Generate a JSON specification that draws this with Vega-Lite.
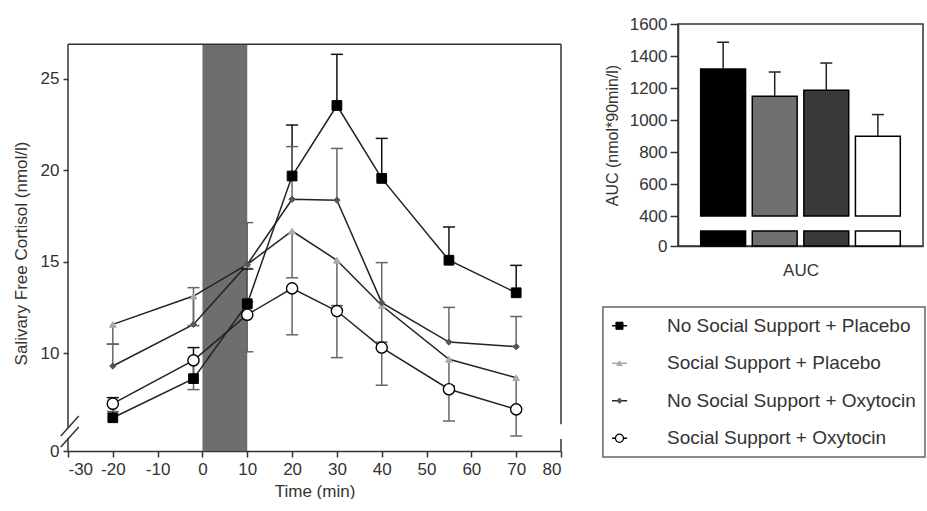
{
  "$schema": "https://vega.github.io/schema/vega-lite/v6.json",
  "padding": {"left": 12, "top": 14, "right": 0, "bottom": 0},
  "spacing": 40,
  "background": "white",
  "resolve": {"scale": {"fill": "independent", "stroke": "independent", "shape": "independent", "size": "independent", "color": "independent"}},
  "config": {
    "font": "Liberation Sans",
    "view": {"stroke": "#333", "strokeWidth": 1.5},
    "axis": {"domainColor": "#333", "domainWidth": 1.5, "tickColor": "#333", "tickWidth": 1.5, "labelColor": "#333", "titleColor": "#333", "labelFontSize": 16, "titleFontSize": 16, "titleFontWeight": "normal", "grid": false, "labelOverlap": false}
  },
  "hconcat": [
    {
      "width": 493,
      "height": 427,
      "view": {"stroke": null},
      "data": {"values": [
        {"series": "No Social Support + Placebo", "t": -20, "v": 6.46, "e": 7.56},
        {"series": "No Social Support + Placebo", "t": -2, "v": 8.6, "e": 10.3},
        {"series": "No Social Support + Placebo", "t": 10, "v": 12.7, "e": 14.6},
        {"series": "No Social Support + Placebo", "t": 20, "v": 19.69, "e": 22.48},
        {"series": "No Social Support + Placebo", "t": 30, "v": 23.55, "e": 26.35},
        {"series": "No Social Support + Placebo", "t": 40, "v": 19.56, "e": 21.75},
        {"series": "No Social Support + Placebo", "t": 55, "v": 15.08, "e": 16.9},
        {"series": "No Social Support + Placebo", "t": 70, "v": 13.3, "e": 14.8},
        {"series": "Social Support + Placebo", "t": -20, "v": 11.57, "e": 10.5},
        {"series": "Social Support + Placebo", "t": -2, "v": 13.12, "e": 11.5},
        {"series": "Social Support + Placebo", "t": 10, "v": 14.85, "e": 12.8},
        {"series": "Social Support + Placebo", "t": 20, "v": 16.68, "e": 14.12},
        {"series": "Social Support + Placebo", "t": 30, "v": 15.08, "e": 12.6},
        {"series": "Social Support + Placebo", "t": 40, "v": 12.6, "e": 10.6},
        {"series": "Social Support + Placebo", "t": 55, "v": 9.66, "e": 8.2},
        {"series": "Social Support + Placebo", "t": 70, "v": 8.65, "e": 7.0},
        {"series": "No Social Support + Oxytocin", "t": -20, "v": 9.29, "e": 10.48},
        {"series": "No Social Support + Oxytocin", "t": -2, "v": 11.57, "e": 13.58},
        {"series": "No Social Support + Oxytocin", "t": 10, "v": 14.85, "e": 17.14},
        {"series": "No Social Support + Oxytocin", "t": 20, "v": 18.42, "e": 21.3},
        {"series": "No Social Support + Oxytocin", "t": 30, "v": 18.37, "e": 21.2},
        {"series": "No Social Support + Oxytocin", "t": 40, "v": 12.76, "e": 14.95},
        {"series": "No Social Support + Oxytocin", "t": 55, "v": 10.6, "e": 12.5},
        {"series": "No Social Support + Oxytocin", "t": 70, "v": 10.35, "e": 12.0},
        {"series": "Social Support + Oxytocin", "t": -20, "v": 7.23, "e": 6.8},
        {"series": "Social Support + Oxytocin", "t": -2, "v": 9.6, "e": 8.0},
        {"series": "Social Support + Oxytocin", "t": 10, "v": 12.1, "e": 10.07},
        {"series": "Social Support + Oxytocin", "t": 20, "v": 13.54, "e": 11.0},
        {"series": "Social Support + Oxytocin", "t": 30, "v": 12.3, "e": 9.75},
        {"series": "Social Support + Oxytocin", "t": 40, "v": 10.3, "e": 8.24},
        {"series": "Social Support + Oxytocin", "t": 55, "v": 8.02, "e": 6.28},
        {"series": "Social Support + Oxytocin", "t": 70, "v": 6.92, "e": 5.46}
      ]},
      "layer": [
        {
          "data": {"values": [{}]},
          "mark": {"type": "rect", "color": "#6e6e6e", "opacity": 1},
          "encoding": {
            "x": {"datum": 0, "type": "quantitative", "scale": {"domain": [-30, 80], "nice": false, "zero": false}},
            "x2": {"datum": 10},
            "y": {"datum": 4.64, "type": "quantitative", "scale": {"domain": [4.64, 28.01], "nice": false, "zero": false}},
            "y2": {"datum": 26.9}
          }
        },
        {
          "mark": {"type": "line", "color": "#222", "strokeWidth": 1.5},
          "encoding": {
            "x": {"field": "t", "type": "quantitative", "scale": {"domain": [-30, 80], "nice": false, "zero": false},
              "axis": {"values": [-30, -20, -10, 0, 10, 20, 30, 40, 50, 60, 70, 80], "labelExpr": "datum.value < 0 ? '-' + abs(datum.value) : '' + datum.value", "title": "Time (min)", "tickSize": 6, "labelPadding": 4, "titlePadding": 6, "labelFontSize": 17, "titleFontSize": 17}},
            "y": {"field": "v", "type": "quantitative", "scale": {"domain": [4.64, 28.01], "nice": false, "zero": false},
              "axis": {"values": [4.64, 10, 15, 20, 25], "domain": false, "labelExpr": "datum.value < 5 ? '0' : datum.label", "title": "Salivary Free Cortisol (nmol/l)", "titleY": 229, "tickSize": 5, "labelPadding": 4, "titlePadding": 10, "labelFontSize": 17, "titleFontSize": 17}},
            "detail": {"field": "series"}
          }
        },
        {
          "mark": {"type": "rule", "strokeWidth": 1.5, "opacity": 1},
          "encoding": {
            "x": {"field": "t", "type": "quantitative"},
            "y": {"field": "v", "type": "quantitative"},
            "y2": {"field": "e"},
            "color": {"condition": {"test": "datum.series === 'No Social Support + Placebo'", "value": "#111"}, "value": "#666"}
          }
        },
        {
          "mark": {"type": "tick", "orient": "horizontal", "size": 12, "thickness": 1.5, "opacity": 1},
          "encoding": {
            "x": {"field": "t", "type": "quantitative"},
            "y": {"field": "e", "type": "quantitative"},
            "color": {"condition": {"test": "datum.series === 'No Social Support + Placebo'", "value": "#111"}, "value": "#666"}
          }
        },
        {
          "transform": [{"filter": "datum.series === 'No Social Support + Placebo'"}],
          "mark": {"type": "point", "shape": "square", "size": 95, "filled": true, "fill": "#000", "stroke": "#000", "strokeWidth": 1, "opacity": 1},
          "encoding": {"x": {"field": "t", "type": "quantitative"}, "y": {"field": "v", "type": "quantitative"}}
        },
        {
          "transform": [{"filter": "datum.series === 'Social Support + Placebo'"}],
          "mark": {"type": "point", "shape": "triangle-up", "size": 45, "filled": true, "fill": "#aaa", "stroke": "#aaa", "strokeWidth": 1, "opacity": 1},
          "encoding": {"x": {"field": "t", "type": "quantitative"}, "y": {"field": "v", "type": "quantitative"}}
        },
        {
          "transform": [{"filter": "datum.series === 'No Social Support + Oxytocin'"}],
          "mark": {"type": "point", "shape": "diamond", "size": 40, "filled": true, "fill": "#555", "stroke": "#555", "strokeWidth": 1, "opacity": 1},
          "encoding": {"x": {"field": "t", "type": "quantitative"}, "y": {"field": "v", "type": "quantitative"}}
        },
        {
          "transform": [{"filter": "datum.series === 'Social Support + Oxytocin'"}],
          "mark": {"type": "point", "shape": "circle", "size": 125, "filled": true, "fill": "#fff", "stroke": "#000", "strokeWidth": 1.4, "opacity": 1},
          "encoding": {"x": {"field": "t", "type": "quantitative"}, "y": {"field": "v", "type": "quantitative"}}
        },
        {
          "data": {"values": [{}]},
          "mark": {"type": "rule", "color": "#333", "strokeWidth": 1.5},
          "encoding": {"x": {"datum": -30, "type": "quantitative"}, "x2": {"datum": 80}, "y": {"datum": 26.9, "type": "quantitative"}}
        },
        {
          "data": {"values": [{}]},
          "mark": {"type": "rule", "color": "#333", "strokeWidth": 1.5},
          "encoding": {"x": {"datum": 80, "type": "quantitative"}, "y": {"datum": 6.1, "type": "quantitative"}, "y2": {"datum": 26.9}}
        },
        {
          "data": {"values": [{}]},
          "mark": {"type": "rule", "color": "#333", "strokeWidth": 1.5},
          "encoding": {"x": {"datum": 80, "type": "quantitative"}, "y": {"datum": 4.64, "type": "quantitative"}, "y2": {"datum": 5.3}}
        },
        {
          "data": {"values": [{}]},
          "mark": {"type": "rule", "color": "#333", "strokeWidth": 1.5},
          "encoding": {"x": {"datum": -30, "type": "quantitative"}, "y": {"datum": 5.9, "type": "quantitative"}, "y2": {"datum": 26.9}}
        },
        {
          "data": {"values": [{}]},
          "mark": {"type": "rule", "color": "#333", "strokeWidth": 1.5},
          "encoding": {"x": {"datum": -30, "type": "quantitative"}, "y": {"datum": 4.64, "type": "quantitative"}, "y2": {"datum": 5.35}}
        },
        {
          "data": {"values": [{}]},
          "mark": {"type": "rule", "color": "#333", "strokeWidth": 1.5, "clip": false},
          "encoding": {"x": {"datum": -31.6, "type": "quantitative"}, "x2": {"datum": -27.6}, "y": {"datum": 5.46, "type": "quantitative"}, "y2": {"datum": 6.55}}
        },
        {
          "data": {"values": [{}]},
          "mark": {"type": "rule", "color": "#333", "strokeWidth": 1.5, "clip": false},
          "encoding": {"x": {"datum": -31.6, "type": "quantitative"}, "x2": {"datum": -27.6}, "y": {"datum": 4.86, "type": "quantitative"}, "y2": {"datum": 5.95}}
        }
      ]
    },
    {
      "spacing": 27,
      "resolve": {"scale": {"fill": "independent", "stroke": "independent", "shape": "independent", "size": "independent", "color": "independent"}},
      "vconcat": [
        {
          "width": 245,
          "height": 222,
          "data": {"values": [
            {"group": "No Social Support + Placebo", "auc": 1319, "hi": 1486},
            {"group": "Social Support + Placebo", "auc": 1148, "hi": 1300},
            {"group": "No Social Support + Oxytocin", "auc": 1186, "hi": 1356},
            {"group": "Social Support + Oxytocin", "auc": 898, "hi": 1034}
          ]},
          "encoding": {
            "x": {"field": "group", "type": "nominal", "sort": null, "scale": {"paddingInner": 0.13, "paddingOuter": 0.44}, "axis": {"labels": false, "ticks": false, "title": "AUC", "titlePadding": 16, "titleFontSize": 17}},
            "y": {"field": "auc", "type": "quantitative", "scale": {"domain": [212.5, 1600], "nice": false, "zero": false},
              "axis": {"values": [212.5, 400, 600, 800, 1000, 1200, 1400, 1600], "labelOverlap": false, "labelFlush": false, "format": "d", "labelExpr": "datum.value < 300 ? '0' : datum.label", "title": "AUC (nmol*90min/l)", "tickSize": 8, "labelPadding": 3, "titlePadding": 9, "labelFontSize": 17, "titleFontSize": 16}}
          },
          "layer": [
            {
              "mark": {"type": "bar", "stroke": "#000", "strokeWidth": 1.5, "opacity": 1},
              "encoding": {
                "y2": {"datum": 400},
                "fill": {"field": "group", "type": "nominal", "scale": {"domain": ["No Social Support + Placebo", "Social Support + Placebo", "No Social Support + Oxytocin", "Social Support + Oxytocin"], "range": ["#000", "#707070", "#3a3a3a", "#fff"]}, "legend": null}
              }
            },
            {
              "mark": {"type": "bar", "stroke": "#000", "strokeWidth": 1.5, "opacity": 1},
              "encoding": {
                "y": {"datum": 306, "type": "quantitative"},
                "y2": {"datum": 212.5},
                "fill": {"field": "group", "type": "nominal", "legend": null}
              }
            },
            {
              "mark": {"type": "rule", "strokeWidth": 1.5, "color": "#222", "opacity": 1},
              "encoding": {"y2": {"field": "hi"}}
            },
            {
              "mark": {"type": "tick", "orient": "horizontal", "size": 12, "thickness": 1.5, "color": "#222", "opacity": 1},
              "encoding": {"y": {"field": "hi", "type": "quantitative"}}
            }
          ]
        },
        {
          "width": 247,
          "height": 150,
          "view": {"stroke": null},
          "data": {"values": [
            {"series": "No Social Support + Placebo"},
            {"series": "Social Support + Placebo"},
            {"series": "No Social Support + Oxytocin"},
            {"series": "Social Support + Oxytocin"}
          ]},
          "layer": [
            {
              "data": {"values": [{}]},
              "mark": {"type": "rect", "fill": null, "stroke": "#666", "strokeWidth": 1.5, "clip": false},
              "encoding": {
                "x": {"datum": -30.4, "type": "quantitative", "scale": {"domain": [0, 100], "nice": false, "zero": false}, "axis": null},
                "x2": {"datum": 100}
              }
            },
            {
              "mark": {"type": "rule", "strokeWidth": 1.5, "clip": false},
              "encoding": {
                "x": {"datum": -26.7, "type": "quantitative"},
                "x2": {"datum": -20.6},
                "y": {"field": "series", "type": "nominal", "sort": null, "scale": {"type": "point", "padding": 0.5}, "axis": null},
                "stroke": {"field": "series", "type": "nominal", "scale": {"domain": ["No Social Support + Placebo", "Social Support + Placebo", "No Social Support + Oxytocin", "Social Support + Oxytocin"], "range": ["#000", "#aaa", "#222", "#000"]}, "legend": null}
              }
            },
            {
              "transform": [{"filter": "datum.series === 'No Social Support + Placebo'"}],
              "mark": {"type": "point", "shape": "square", "size": 50, "filled": true, "fill": "#000", "stroke": "#000", "strokeWidth": 1, "opacity": 1, "clip": false},
              "encoding": {"x": {"datum": -23.7, "type": "quantitative"}, "y": {"field": "series", "type": "nominal", "sort": null}}
            },
            {
              "transform": [{"filter": "datum.series === 'Social Support + Placebo'"}],
              "mark": {"type": "point", "shape": "triangle-up", "size": 30, "filled": true, "fill": "#aaa", "stroke": "#aaa", "strokeWidth": 1, "opacity": 1, "clip": false},
              "encoding": {"x": {"datum": -23.7, "type": "quantitative"}, "y": {"field": "series", "type": "nominal", "sort": null}}
            },
            {
              "transform": [{"filter": "datum.series === 'No Social Support + Oxytocin'"}],
              "mark": {"type": "point", "shape": "diamond", "size": 28, "filled": true, "fill": "#555", "stroke": "#555", "strokeWidth": 1, "opacity": 1, "clip": false},
              "encoding": {"x": {"datum": -23.7, "type": "quantitative"}, "y": {"field": "series", "type": "nominal", "sort": null}}
            },
            {
              "transform": [{"filter": "datum.series === 'Social Support + Oxytocin'"}],
              "mark": {"type": "point", "shape": "circle", "size": 65, "filled": true, "fill": "#fff", "stroke": "#000", "strokeWidth": 1.3, "opacity": 1, "clip": false},
              "encoding": {"x": {"datum": -23.7, "type": "quantitative"}, "y": {"field": "series", "type": "nominal", "sort": null}}
            },
            {
              "mark": {"type": "text", "align": "left", "baseline": "middle", "fontSize": 19, "color": "#333", "clip": false},
              "encoding": {
                "x": {"datum": -4.45, "type": "quantitative"},
                "y": {"field": "series", "type": "nominal", "sort": null},
                "text": {"field": "series"}
              }
            }
          ]
        }
      ]
    }
  ]
}
